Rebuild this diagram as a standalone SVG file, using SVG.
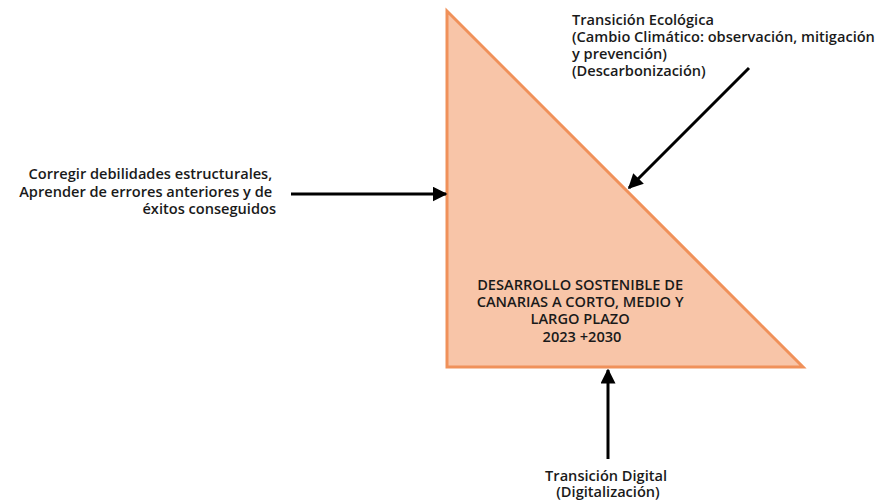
<svg xmlns="http://www.w3.org/2000/svg" width="888" height="501" viewBox="0 0 888 501">
  <style>
    .lbl { font-family: "Open Sans", "Noto Sans", "DejaVu Sans", sans-serif; font-weight: 600; font-size: 14.6px; fill: #1a1a1a; }
    .wire { stroke: #000; stroke-width: 3; fill: none; }
  </style>
  <defs>
    <marker id="head" viewBox="0 0 10 10" refX="9" refY="5" markerWidth="5" markerHeight="5" orient="auto" markerUnits="strokeWidth">
      <path d="M0,0 L10,5 L0,10 z" fill="#000"/>
    </marker>
  </defs>
  <rect width="888" height="501" fill="#fff"/>

  <g id="core">
    <polygon points="447,11 447,367 803,367" fill="#F8C5A8" stroke="#F0915A" stroke-width="3" stroke-linejoin="miter"/>
    <text class="lbl" text-anchor="middle">
      <tspan x="582" y="290">DESARROLLO SOSTENIBLE DE</tspan>
      <tspan x="582" y="307">CANARIAS A CORTO, MEDIO Y</tspan>
      <tspan x="582" y="324">LARGO PLAZO</tspan>
      <tspan x="582" y="341.5">2023 +2030</tspan>
    </text>
  </g>

  <g id="ecologica">
    <text class="lbl">
      <tspan x="572" y="25">Transición Ecológica</tspan>
      <tspan x="572" y="42">(Cambio Climático: observación, mitigación</tspan>
      <tspan x="572" y="59">y prevención)</tspan>
      <tspan x="572" y="76">(Descarbonización)</tspan>
    </text>
  </g>

  <g id="estructural">
    <text class="lbl" text-anchor="end">
      <tspan x="276" y="179">Corregir debilidades estructurales,</tspan>
      <tspan x="276" y="196.5">Aprender de errores anteriores y de</tspan>
      <tspan x="276" y="214">éxitos conseguidos</tspan>
    </text>
  </g>

  <g id="digital">
    <text class="lbl" text-anchor="middle">
      <tspan x="608" y="481">Transición Digital</tspan>
      <tspan x="608" y="497">(Digitalización)</tspan>
    </text>
  </g>

  <g id="connectors">
    <line class="wire" x1="291" y1="194" x2="446" y2="194" marker-end="url(#head)"/>
    <line class="wire" x1="749" y1="68" x2="629" y2="188" marker-end="url(#head)"/>
    <line class="wire" x1="608" y1="459" x2="608" y2="370" marker-end="url(#head)"/>
  </g>
</svg>
